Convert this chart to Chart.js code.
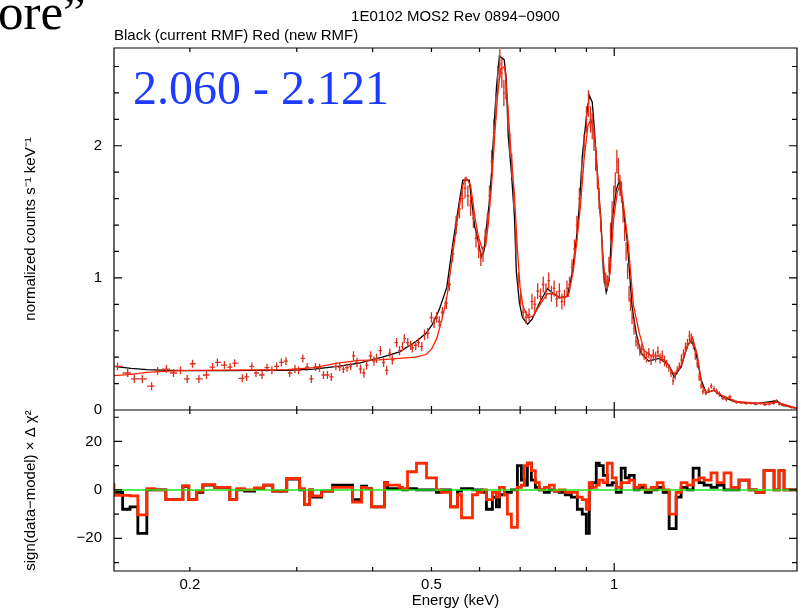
<!DOCTYPE html>
<html>
<head>
<meta charset="utf-8">
<title>1E0102 MOS2 Rev 0894-0900</title>
<script src="https://cdn.jsdelivr.net/npm/chart.js@4.4.1/dist/chart.umd.min.js"></script>
<style>
  html, body { margin: 0; padding: 0; background: #fff; }
  #spectrum { display: block; }
</style>
</head>
<body>
<canvas id="spectrum" width="804" height="616"></canvas>
<script>
// Model curves (normalized counts s^-1 keV^-1), black = current RMF, red = new RMF
var blackE = [0.150, 0.160, 0.170, 0.185, 0.200, 0.230, 0.260, 0.290, 0.320, 0.350,
  0.380, 0.415, 0.443, 0.472, 0.490, 0.502, 0.515, 0.530, 0.541, 0.552,
  0.563, 0.577, 0.589, 0.595, 0.604, 0.610, 0.616, 0.622, 0.628, 0.635,
  0.640, 0.647, 0.659, 0.664, 0.669, 0.677, 0.685, 0.690, 0.698, 0.706,
  0.720, 0.733, 0.753, 0.776, 0.790, 0.812, 0.837, 0.853, 0.866, 0.876,
  0.886, 0.900, 0.910, 0.920, 0.927, 0.938, 0.952, 0.960, 0.970, 0.981,
  0.992, 1.008, 1.019, 1.030, 1.050, 1.070, 1.087, 1.107, 1.140, 1.186,
  1.230, 1.255, 1.290, 1.318, 1.340, 1.364, 1.390, 1.417, 1.460, 1.505,
  1.587, 1.730, 1.850, 1.900, 1.960, 2.000];
var blackY = [0.33, 0.315, 0.305, 0.30, 0.298, 0.298, 0.30, 0.30, 0.31, 0.33,
  0.355, 0.40, 0.44, 0.52, 0.58, 0.65, 0.76, 0.93, 1.23, 1.49,
  1.74, 1.74, 1.39, 1.31, 1.16, 1.20, 1.39, 1.55, 1.80, 2.20,
  2.45, 2.68, 2.65, 2.50, 2.07, 1.80, 1.46, 1.04, 0.81, 0.70,
  0.65, 0.69, 0.81, 0.92, 0.89, 0.85, 0.86, 1.04, 1.29, 1.54,
  1.92, 2.22, 2.38, 2.33, 2.14, 1.79, 1.39, 1.04, 0.89, 0.98,
  1.44, 1.67, 1.73, 1.59, 1.29, 0.78, 0.58, 0.43, 0.37, 0.39,
  0.34, 0.25, 0.33, 0.48, 0.53, 0.43, 0.23, 0.13, 0.15, 0.10,
  0.06, 0.05, 0.07, 0.035, 0.02, 0.012];

var redE = [0.150, 0.160, 0.170, 0.185, 0.200, 0.230, 0.260, 0.290, 0.320, 0.350,
  0.380, 0.410, 0.443, 0.470, 0.490, 0.500, 0.510, 0.520, 0.530, 0.541,
  0.552, 0.563, 0.570, 0.580, 0.590, 0.597, 0.606, 0.614, 0.620, 0.628,
  0.636, 0.643, 0.650, 0.660, 0.668, 0.676, 0.685, 0.693, 0.700, 0.708,
  0.722, 0.735, 0.755, 0.776, 0.795, 0.815, 0.840, 0.856, 0.868, 0.880,
  0.892, 0.905, 0.915, 0.925, 0.933, 0.945, 0.955, 0.965, 0.975, 0.985,
  0.998, 1.012, 1.024, 1.036, 1.055, 1.075, 1.100, 1.120, 1.150, 1.186,
  1.220, 1.255, 1.290, 1.318, 1.345, 1.370, 1.395, 1.420, 1.460, 1.505,
  1.587, 1.730, 1.850, 1.960, 2.000];
var redY = [0.26, 0.27, 0.285, 0.295, 0.30, 0.302, 0.303, 0.305, 0.32, 0.355,
  0.375, 0.38, 0.39, 0.40, 0.42, 0.46, 0.54, 0.68, 0.85, 1.15,
  1.45, 1.70, 1.76, 1.70, 1.45, 1.32, 1.22, 1.24, 1.40, 1.70,
  2.10, 2.40, 2.58, 2.60, 2.30, 1.95, 1.62, 1.20, 0.92, 0.78,
  0.70, 0.71, 0.80, 0.88, 0.88, 0.85, 0.86, 1.05, 1.28, 1.55,
  1.90, 2.15, 2.20, 2.12, 1.95, 1.60, 1.25, 1.00, 0.93, 1.05,
  1.45, 1.65, 1.72, 1.55, 1.25, 0.80, 0.58, 0.45, 0.41, 0.41,
  0.36, 0.27, 0.34, 0.48, 0.55, 0.42, 0.18, 0.13, 0.15, 0.11,
  0.065, 0.05, 0.06, 0.025, 0.015];

// Measured spectrum (red crosses): energy, rate and 1-sigma error
var dataE = [0.152, 0.158, 0.162, 0.167, 0.173, 0.177, 0.183, 0.188, 0.193, 0.198,
  0.202, 0.207, 0.213, 0.218, 0.222, 0.228, 0.233, 0.237, 0.244, 0.248,
  0.253, 0.257, 0.263, 0.268, 0.273, 0.278, 0.283, 0.288, 0.292, 0.298,
  0.302, 0.307, 0.312, 0.317, 0.322, 0.327, 0.332, 0.337, 0.342, 0.348,
  0.353, 0.358, 0.363, 0.368, 0.372, 0.377, 0.382, 0.387, 0.391, 0.397,
  0.402, 0.406, 0.412, 0.417, 0.422, 0.427, 0.431, 0.438, 0.443, 0.448,
  0.451, 0.457, 0.462, 0.465, 0.471, 0.476, 0.482, 0.487, 0.493, 0.500,
  0.505, 0.510, 0.515, 0.521, 0.529,
  0.535, 0.542, 0.549, 0.556, 0.562, 0.568, 0.574, 0.580, 0.586, 0.592,
  0.598, 0.603, 0.608, 0.613, 0.618, 0.623, 0.628, 0.633, 0.638, 0.643,
  0.648, 0.653, 0.658, 0.663, 0.668, 0.673, 0.678, 0.683, 0.689, 0.695,
  0.701, 0.708, 0.716, 0.724, 0.732, 0.740, 0.748, 0.756, 0.764, 0.772,
  0.780, 0.788, 0.796, 0.804, 0.812, 0.820, 0.828, 0.836, 0.844, 0.852,
  0.860, 0.868, 0.876, 0.884, 0.892, 0.900, 0.907, 0.914, 0.920, 0.926,
  0.932, 0.938, 0.944, 0.950, 0.956, 0.962, 0.968, 0.974, 0.980, 0.986,
  0.992, 0.998, 1.004, 1.010, 1.016, 1.022, 1.028, 1.034, 1.040, 1.046,
  1.052, 1.058, 1.064, 1.070, 1.078, 1.086, 1.094, 1.102, 1.110, 1.120,
  1.130, 1.140, 1.150, 1.160, 1.170, 1.180, 1.190, 1.200, 1.210, 1.220,
  1.230, 1.240, 1.250, 1.260, 1.270, 1.280, 1.290, 1.300, 1.310, 1.320,
  1.330, 1.340, 1.350, 1.360, 1.370, 1.380, 1.390, 1.400, 1.415, 1.430,
  1.445, 1.460, 1.475, 1.490, 1.510, 1.530, 1.550, 1.570, 1.590, 1.620,
  1.650, 1.680, 1.710, 1.740, 1.770, 1.800, 1.830, 1.850, 1.870, 1.900,
  1.930, 1.960, 1.990];
var dataY = [0.33, 0.28, 0.235, 0.235, 0.18, 0.295, 0.31, 0.28, 0.30, 0.235,
  0.35, 0.235, 0.265, 0.325, 0.36, 0.34, 0.325, 0.355, 0.24, 0.25,
  0.33, 0.28, 0.265, 0.32, 0.30, 0.33, 0.36, 0.37, 0.28, 0.31,
  0.30, 0.39, 0.325, 0.235, 0.325, 0.32, 0.265, 0.265, 0.25, 0.33,
  0.325, 0.31, 0.32, 0.33, 0.41, 0.36, 0.31, 0.28, 0.34, 0.41,
  0.37, 0.39, 0.45, 0.36, 0.30, 0.43, 0.38, 0.51, 0.45, 0.48,
  0.54, 0.51, 0.49, 0.47, 0.49, 0.51, 0.48, 0.57, 0.58, 0.70,
  0.66, 0.70, 0.67, 0.74, 0.81,
  0.95, 1.18, 1.40, 1.52, 1.60, 1.68, 1.62, 1.55, 1.45, 1.30,
  1.22, 1.15, 1.18, 1.30, 1.42, 1.62, 1.88, 2.10, 2.30, 2.50,
  2.62, 2.55, 2.40, 2.45, 2.20, 2.00, 1.85, 1.60, 1.25, 0.98,
  0.85, 0.74, 0.70, 0.72, 0.82, 0.80, 0.90, 0.86, 0.95, 0.90,
  0.98, 0.88, 0.92, 0.84, 0.90, 0.82, 0.85, 0.92, 0.95, 1.08,
  1.22, 1.40, 1.60, 1.80, 2.00, 2.20, 2.32, 2.20, 2.15, 2.05,
  1.90, 1.75, 1.60, 1.42, 1.20, 1.02, 0.98, 0.96, 1.10, 1.35,
  1.50, 1.62, 1.72, 1.88, 1.82, 1.70, 1.65, 1.50, 1.35, 1.20,
  1.05, 0.88, 0.80, 0.70, 0.62, 0.52, 0.50, 0.45, 0.46, 0.42,
  0.40, 0.43, 0.38, 0.42, 0.40, 0.44, 0.39, 0.41, 0.37, 0.35,
  0.32, 0.28, 0.22, 0.26, 0.30, 0.33, 0.38, 0.42, 0.47, 0.50,
  0.56, 0.54, 0.50, 0.42, 0.35, 0.25, 0.18, 0.14, 0.13, 0.15,
  0.18, 0.16, 0.14, 0.12, 0.09, 0.08, 0.10, 0.07, 0.06, 0.055,
  0.05, 0.052, 0.045, 0.05, 0.04, 0.045, 0.05, 0.07, 0.045, 0.035,
  0.03, 0.02, 0.015];
var dataErr = [0.03, 0.03, 0.03, 0.03, 0.03, 0.03, 0.03, 0.03, 0.03, 0.03,
  0.03, 0.03, 0.03, 0.03, 0.03, 0.03, 0.03, 0.03, 0.03, 0.03,
  0.03, 0.03, 0.03, 0.03, 0.03, 0.03, 0.03, 0.03, 0.03, 0.03,
  0.03, 0.03, 0.03, 0.03, 0.03, 0.03, 0.03, 0.03, 0.03, 0.03,
  0.03, 0.03, 0.03, 0.03, 0.035, 0.035, 0.035, 0.035, 0.035, 0.035,
  0.035, 0.035, 0.035, 0.035, 0.035, 0.035, 0.035, 0.035, 0.035, 0.035,
  0.035, 0.035, 0.035, 0.035, 0.035, 0.035, 0.035, 0.04, 0.04, 0.04,
  0.04, 0.04, 0.04, 0.04, 0.045,
  0.05, 0.06, 0.07, 0.07, 0.08, 0.08, 0.08, 0.08, 0.07, 0.07,
  0.07, 0.06, 0.06, 0.07, 0.07, 0.08, 0.09, 0.10, 0.10, 0.11,
  0.11, 0.11, 0.10, 0.10, 0.10, 0.09, 0.09, 0.08, 0.07, 0.06,
  0.06, 0.05, 0.05, 0.05, 0.06, 0.06, 0.06, 0.06, 0.06, 0.06,
  0.06, 0.06, 0.06, 0.06, 0.06, 0.06, 0.06, 0.06, 0.06, 0.06,
  0.07, 0.07, 0.08, 0.09, 0.09, 0.10, 0.10, 0.10, 0.10, 0.09,
  0.09, 0.08, 0.08, 0.07, 0.07, 0.06, 0.06, 0.06, 0.06, 0.07,
  0.08, 0.08, 0.08, 0.09, 0.09, 0.08, 0.08, 0.08, 0.07, 0.07,
  0.06, 0.06, 0.05, 0.05, 0.05, 0.04, 0.04, 0.04, 0.04, 0.04,
  0.04, 0.04, 0.04, 0.04, 0.04, 0.04, 0.04, 0.04, 0.04, 0.03,
  0.03, 0.03, 0.03, 0.03, 0.03, 0.03, 0.04, 0.04, 0.04, 0.04,
  0.04, 0.04, 0.04, 0.04, 0.03, 0.03, 0.02, 0.02, 0.02, 0.02,
  0.02, 0.02, 0.02, 0.02, 0.015, 0.015, 0.015, 0.012, 0.012, 0.01,
  0.01, 0.01, 0.01, 0.01, 0.01, 0.01, 0.01, 0.012, 0.01, 0.01,
  0.008, 0.008, 0.008];

// Residuals sign(data-model) x delta chi^2, bin left edges in keV
var resE = [0.150, 0.155, 0.1594, 0.1642, 0.1699, 0.1751, 0.1826, 0.1948, 0.1992, 0.2053,
  0.2101, 0.2198, 0.2327, 0.2389, 0.2462, 0.2557, 0.2647, 0.2739, 0.2888, 0.3033,
  0.3091, 0.3150, 0.3186, 0.3297, 0.3437, 0.3707, 0.3836, 0.3910, 0.3985, 0.4184,
  0.4232, 0.4429, 0.4480, 0.4566, 0.4724, 0.4907, 0.5095, 0.5193, 0.5375, 0.5519,
  0.5603, 0.5842, 0.5953, 0.6066, 0.6159, 0.6300, 0.6397, 0.6471, 0.6594, 0.6668,
  0.6770, 0.6848, 0.6927, 0.7032, 0.7112, 0.7193, 0.7303, 0.7415, 0.7526, 0.7670,
  0.7818, 0.7967, 0.8120, 0.8306, 0.8498, 0.8694, 0.8859, 0.8995, 0.9097, 0.9201,
  0.9341, 0.9448, 0.9592, 0.9739, 0.9925, 1.0076, 1.0268, 1.0426, 1.0584, 1.0787,
  1.0992, 1.1247, 1.1506, 1.1768, 1.2038, 1.2315, 1.2647, 1.2888, 1.3184, 1.3487,
  1.3797, 1.4060, 1.4437, 1.4769, 1.5166, 1.5573, 1.6053, 1.6672, 1.7123, 1.7650,
  1.8333, 1.8683, 1.9040, 1.9403, 2.000];
var resBlack = [0, -1, -8, -7, -18, 0, 0, -4, 1.5, -4,
  -1, 2, 1, -4, 0, -0.5, 0.5, 2, -0.5, 4.5,
  0, -6, 0, -3, -0.5, 2, -4, 1.5, 0.5, -7,
  3, 0.5, 0.5, 0, 0.5, 0, 0, -1, 0, -7,
  -0.5, 0.5, 0, 0, -1, -8, -3, -7, -2, -1,
  -1, 0, 0, 10, 4, 2, 11, 4, 1, 0,
  -1, 0, -0.5, -1, -2, -3, -8, -10, -18, 1,
  3, 11, 10, 6, 2, 3, -1, 9, 5, 6,
  0, 1, -1, 0, 1, -1, -16, -3, 1, 0,
  9, 3, 2, 1, 2, 0, 0, 4, 0, -1,
  8, 0, 8, 0, 0];
var resRed = [2.7, -2.3, -2.3, -2.5, -10.3, 0.5, 0, -4, 1.7, -4,
  -0.5, 2.2, 1, -4, 0.5, 0, 0.8, 2, -0.5, 4.7,
  0.5, -6, 0, -2.5, -0.5, 1, -5, 1, 0.5, -7,
  3, 2, 1, 0.5, 7.5, 11, 5, 0, -1, -7,
  -2, -11.5, -2, -1, 0, -4, -1, -3, 1, -2,
  -10, -15.5, -15.5, 1, 2, 10, 11, 8, 3, 0,
  1, 2, -0.5, 0, -1, -1, -3, -4, -8, 3,
  1, 2, 4, 3, 11, 5, 1, 3, 3, 4,
  1, 2, 0, 1, 3, 0, -10, -1, 3, 2,
  4, 5, 4, 7, 3, 7, 1, 4, 0, -1,
  8, 0, 8, 0, 0];
var zeroE = [0.15, 2.0];
var zeroY = [0, 0];

// Tick values
var xLabelTicks = [0.2, 0.5, 1];
var xMinorTicks = [0.3, 0.4, 0.6, 0.7, 0.8, 0.9];
var topMajor = [0, 1, 2];
var topMinor = [0.2, 0.4, 0.6, 0.8, 1.2, 1.4, 1.6, 1.8, 2.2, 2.4, 2.6];
var resMajor = [-20, 0, 20];
var resMinor = [-30, -10, 10, 30];

var FONT = "'Liberation Sans', Arial, Helvetica, sans-serif";
var SERIF = "'Liberation Serif', 'Times New Roman', serif";

function toPoints(xs, ys) {
    return xs.map(function (x, i) { return {x: x, y: ys[i]}; });
}

// Draws x and y error bars for datasets that carry yErrors
var errorBarPlugin = {
    id: 'errorBars',
    afterDatasetDraw: function (chart, args) {
        var ds = chart.data.datasets[args.index];
        if (!ds.yErrors) return;
        var ctx = chart.ctx, xs = chart.scales.x, ys = chart.scales[ds.yAxisID];
        var area = chart.chartArea, pts = ds.data;
        ctx.save();
        ctx.beginPath();
        ctx.rect(area.left, ys.top, area.right - area.left, ys.bottom - ys.top);
        ctx.clip();
        ctx.strokeStyle = ds.borderColor;
        ctx.lineWidth = 1.3;
        ctx.beginPath();
        pts.forEach(function (p, i) {
            var hi = i < pts.length - 1 ? Math.sqrt(pts[i + 1].x * p.x) : p.x * p.x / Math.sqrt(pts[i - 1].x * p.x);
            var lo = i > 0 ? Math.sqrt(pts[i - 1].x * p.x) : p.x * p.x / hi;
            var py = ys.getPixelForValue(p.y);
            var px = xs.getPixelForValue(p.x);
            ctx.moveTo(xs.getPixelForValue(lo), py);
            ctx.lineTo(xs.getPixelForValue(hi), py);
            ctx.moveTo(px, ys.getPixelForValue(p.y - ds.yErrors[i]));
            ctx.lineTo(px, ys.getPixelForValue(p.y + ds.yErrors[i]));
        });
        ctx.stroke();
        ctx.restore();
    }
};

// Boxes around both panels with inward ticks on every side
var framePlugin = {
    id: 'panelFrame',
    afterDraw: function (chart) {
        var ctx = chart.ctx, a = chart.chartArea, xs = chart.scales.x;
        var panels = [
            {scale: chart.scales.yTop, major: topMajor, minor: topMinor},
            {scale: chart.scales.yRes, major: resMajor, minor: resMinor}
        ];
        ctx.save();
        ctx.strokeStyle = '#000';
        ctx.lineWidth = 1.2;
        ctx.beginPath();
        panels.forEach(function (pn) {
            var s = pn.scale;
            ctx.rect(a.left, s.top, a.right - a.left, s.bottom - s.top);
            xLabelTicks.concat(xMinorTicks).forEach(function (v) {
                var len = v === 1 ? 8 : 4;
                var px = xs.getPixelForValue(v);
                ctx.moveTo(px, s.top); ctx.lineTo(px, s.top + len);
                ctx.moveTo(px, s.bottom); ctx.lineTo(px, s.bottom - len);
            });
            [[pn.major, 8], [pn.minor, 5]].forEach(function (set) {
                set[0].forEach(function (v) {
                    var py = s.getPixelForValue(v);
                    ctx.moveTo(a.left, py); ctx.lineTo(a.left + set[1], py);
                    ctx.moveTo(a.right, py); ctx.lineTo(a.right - set[1], py);
                });
            });
        });
        ctx.stroke();
        ctx.restore();
    }
};

// Plot titles and the slide overlay text
var textPlugin = {
    id: 'slideText',
    afterDraw: function (chart) {
        var ctx = chart.ctx, a = chart.chartArea;
        ctx.save();
        ctx.fillStyle = '#000';
        ctx.textBaseline = 'alphabetic';
        ctx.font = '15px ' + FONT;
        ctx.textAlign = 'center';
        ctx.fillText('1E0102 MOS2 Rev 0894\u22120900', (a.left + a.right) / 2, 21);
        ctx.textAlign = 'left';
        ctx.fillText('Black (current RMF) Red (new RMF)', a.left, 40);
        ctx.font = '51px ' + SERIF;
        ctx.fillText('ore\u201D', -2, 29);
        ctx.font = '48px ' + SERIF;
        ctx.fillStyle = '#1e3cff';
        ctx.fillText('2.060 - 2.121', 133, 104);
        ctx.restore();
    }
};

document.addEventListener('DOMContentLoaded', function () {
    var ctx = document.getElementById('spectrum').getContext('2d');
    var tickFont = {family: FONT, size: 15};
    var noGrid = {display: false, drawTicks: false};

    new Chart(ctx, {
        type: 'line',
        data: {
            datasets: [
                {label: 'model (current RMF)', data: toPoints(blackE, blackY), yAxisID: 'yTop',
                    borderColor: '#000', borderWidth: 1.3, pointRadius: 0, order: 6},
                {label: 'model (new RMF)', data: toPoints(redE, redY), yAxisID: 'yTop',
                    borderColor: '#ff2000', borderWidth: 1.3, pointRadius: 0, order: 5},
                {label: 'data', data: toPoints(dataE, dataY), yErrors: dataErr, yAxisID: 'yTop',
                    borderColor: '#dc2f1c', showLine: false, pointRadius: 0, order: 4},
                {label: 'residuals (current RMF)', data: toPoints(resE, resBlack), yAxisID: 'yRes',
                    borderColor: '#000', borderWidth: 2.8, pointRadius: 0, stepped: 'after', order: 3},
                {label: 'residuals (new RMF)', data: toPoints(resE, resRed), yAxisID: 'yRes',
                    borderColor: '#ff2a00', borderWidth: 2.8, pointRadius: 0, stepped: 'after', order: 2},
                {label: 'zero', data: toPoints(zeroE, zeroY), yAxisID: 'yRes',
                    borderColor: '#1ee61e', borderWidth: 1.5, pointRadius: 0, order: 1}
            ]
        },
        options: {
            responsive: false,
            animation: false,
            layout: {padding: {top: 48, right: 7, left: 0, bottom: 0}},
            plugins: {legend: {display: false}, tooltip: {enabled: false}},
            scales: {
                x: {
                    type: 'logarithmic', position: 'bottom', min: 0.15, max: 2.0,
                    grid: noGrid, border: {display: false},
                    afterBuildTicks: function (s) { s.ticks = xLabelTicks.map(function (v) { return {value: v}; }); },
                    afterFit: function (s) { s.height = 45; },
                    ticks: {font: tickFont, color: '#000', padding: 5, maxRotation: 0, autoSkip: false,
                        callback: function (v) { return String(v); }},
                    title: {display: true, text: 'Energy (keV)', font: tickFont, color: '#000',
                        padding: {top: 0, bottom: 6}}
                },
                yTop: {
                    type: 'linear', position: 'left', stack: 'panels', stackWeight: 362, weight: 2,
                    min: 0, max: 2.74,
                    grid: noGrid, border: {display: false},
                    afterBuildTicks: function (s) { s.ticks = topMajor.map(function (v) { return {value: v}; }); },
                    afterFit: function (s) { s.width = 114; },
                    ticks: {font: tickFont, color: '#000', padding: 12, callback: function (v) { return String(v); }},
                    title: {display: true, text: 'normalized counts s\u207B\u00B9 keV\u207B\u00B9', font: tickFont,
                        color: '#000', padding: {top: 22, bottom: 0}}
                },
                yRes: {
                    type: 'linear', position: 'left', stack: 'panels', stackWeight: 161, weight: 1,
                    min: -33.5, max: 33,
                    grid: noGrid, border: {display: false},
                    afterBuildTicks: function (s) { s.ticks = resMajor.map(function (v) { return {value: v}; }); },
                    afterFit: function (s) { s.width = 114; },
                    ticks: {font: tickFont, color: '#000', padding: 12,
                        callback: function (v) { return v < 0 ? '\u2212' + Math.abs(v) : String(v); }},
                    title: {display: true, text: 'sign(data\u2212model) \u00D7 \u0394 \u03C7\u00B2', font: tickFont,
                        color: '#000', padding: {top: 22, bottom: 0}}
                }
            }
        },
        plugins: [errorBarPlugin, framePlugin, textPlugin]
    });
});
</script>
</body>
</html>
